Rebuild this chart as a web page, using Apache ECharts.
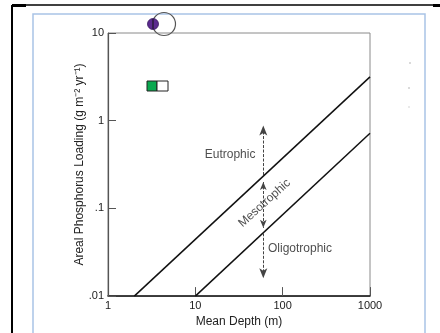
<!DOCTYPE html>
<html><head><meta charset="utf-8">
<style>html,body{margin:0;padding:0;background:#fff}#c{width:440px;height:333px}</style>
<script src="https://cdn.jsdelivr.net/npm/echarts@6/dist/echarts.min.js"></script>
</head><body><div id="c"></div>
<script>
// Data
var xTicks = [1, 10, 100, 1000];
var yTicks = [0.01, 0.1, 1, 10];
var yTickLabels = ['.01', '.1', '1', '10'];
var upperLine = [[2, 0.01], [1000, 3.16]];   // eutrophic / mesotrophic boundary
var lowerLine = [[10, 0.01], [1000, 0.72]];  // mesotrophic / oligotrophic boundary
var arrowDepth = 60;
var eutroArrow = [0.24, 0.88];
var mesoArrow = [0.2, 0.06];
var oligoArrow = [0.052, 0.016];
var zoneNames = ['Eutrophic', 'Mesotrophic', 'Oligotrophic'];
var zonePos = [[25, 0.41], [62, 0.115], [158, 0.035]];

var chart = echarts.init(document.getElementById('c'));
var font = 'Liberation Sans, Arial, sans-serif';
function seg(a) {
  return [{coord: [arrowDepth, a[0]]}, {coord: [arrowDepth, a[1]]}];
}
chart.setOption({
  animation: false,
  grid: {left: 108, right: 70, top: 33, bottom: 36, show: true, borderColor: '#8a8a8a', borderWidth: 1},
  xAxis: {
    type: 'log', logBase: 10, min: 1, max: 1000,
    name: 'Mean Depth (m)', nameLocation: 'middle', nameGap: 16,
    nameTextStyle: {fontFamily: font, fontSize: 12, color: '#222'},
    axisLine: {show: true, lineStyle: {color: '#111', width: 1.5}},
    axisTick: {show: true, inside: true, length: 9, lineStyle: {color: '#555'}},
    axisLabel: {fontFamily: font, fontSize: 11, color: '#222', margin: 4,
      formatter: function (v) { return xTicks.indexOf(Math.round(v)) >= 0 ? String(Math.round(v)) : ''; }},
    splitLine: {show: false}, minorTick: {show: false}
  },
  yAxis: {
    type: 'log', logBase: 10, min: 0.01, max: 10,
    name: 'Areal Phosphorus Loading (g m\u207B\u00B2 yr\u207B\u00B9)', nameLocation: 'middle', nameGap: 22,
    nameMoveOverlap: false,
    nameTextStyle: {fontFamily: font, fontSize: 12, color: '#222'},
    axisLine: {show: true, lineStyle: {color: '#555', width: 1.2}},
    axisTick: {show: true, inside: true, length: 8, lineStyle: {color: '#555'}},
    axisLabel: {fontFamily: font, fontSize: 11, color: '#222', margin: 4,
      formatter: function (v) {
        for (var i = 0; i < yTicks.length; i++) if (Math.abs(Math.log10(v) - Math.log10(yTicks[i])) < 1e-6) return yTickLabels[i];
        return '';
      }},
    splitLine: {show: false}
  },
  series: [
    {type: 'line', data: upperLine, symbol: 'none', lineStyle: {color: '#111', width: 1.5}},
    {type: 'line', data: lowerLine, symbol: 'none', lineStyle: {color: '#111', width: 1.5}},
    {type: 'line', data: [], silent: true,
      markLine: {silent: true, symbol: ['none', 'arrow'], symbolSize: [6, 10], label: {show: false},
        lineStyle: {color: '#444', width: 1, type: [3, 1.5]},
        data: [seg(eutroArrow), seg(oligoArrow)]}},
    {type: 'line', data: [], silent: true,
      markLine: {silent: true, symbol: ['arrow', 'arrow'], symbolSize: [5, 8], label: {show: false},
        lineStyle: {color: '#444', width: 1, type: [3, 1.5]},
        data: [seg(mesoArrow)]}},
    {type: 'scatter', symbolSize: 0, silent: true,
      data: zoneNames.map(function (n, i) { return {name: n, value: zonePos[i]}; }),
      label: {show: true, position: 'inside', fontFamily: font, fontSize: 12, color: '#222',
        formatter: '{b}'},
      labelLayout: function (p) { return p.dataIndex === 1 ? {rotate: 42} : {}; }
    }
  ],
  graphic: [
    {type: 'line', shape: {x1: 12, y1: 5, x2: 12, y2: 333}, style: {stroke: '#000', lineWidth: 2}},
    {type: 'line', shape: {x1: 12, y1: 5, x2: 433, y2: 5}, style: {stroke: '#000', lineWidth: 1.5}},
    {type: 'rect', shape: {x: 12, y: 4, width: 14, height: 3}, style: {fill: '#000'}},
    {type: 'rect', shape: {x: 433, y: 4, width: 7, height: 3}, style: {fill: '#000'}},
    {type: 'rect', shape: {x: 33, y: 14, width: 392, height: 330}, style: {fill: 'none', stroke: '#a9c3e6', lineWidth: 1.5}},
    {type: 'circle', shape: {cx: 164, cy: 24, r: 11.5}, style: {fill: 'rgba(255,255,255,0)', stroke: '#555', lineWidth: 1.2}},
    {type: 'circle', shape: {cx: 153, cy: 24, r: 5.5}, style: {fill: '#5b2a8f', stroke: '#3a1a60', lineWidth: 0.8}},
    {type: 'line', shape: {x1: 153, y1: 19, x2: 153, y2: 29}, style: {stroke: '#111', lineWidth: 1}},
    {type: 'rect', shape: {x: 147, y: 81, width: 10, height: 10}, style: {fill: '#0aa84f', stroke: '#222', lineWidth: 1}},
    {type: 'rect', shape: {x: 157, y: 81, width: 11, height: 10}, style: {fill: '#fff', stroke: '#222', lineWidth: 1}},
    {type: 'circle', shape: {cx: 410, cy: 63, r: 0.8}, style: {fill: '#aaa'}},
    {type: 'circle', shape: {cx: 409, cy: 88, r: 0.8}, style: {fill: '#aaa'}},
    {type: 'circle', shape: {cx: 409, cy: 107, r: 0.8}, style: {fill: '#ccc'}}
  ]
});
</script></body></html>
